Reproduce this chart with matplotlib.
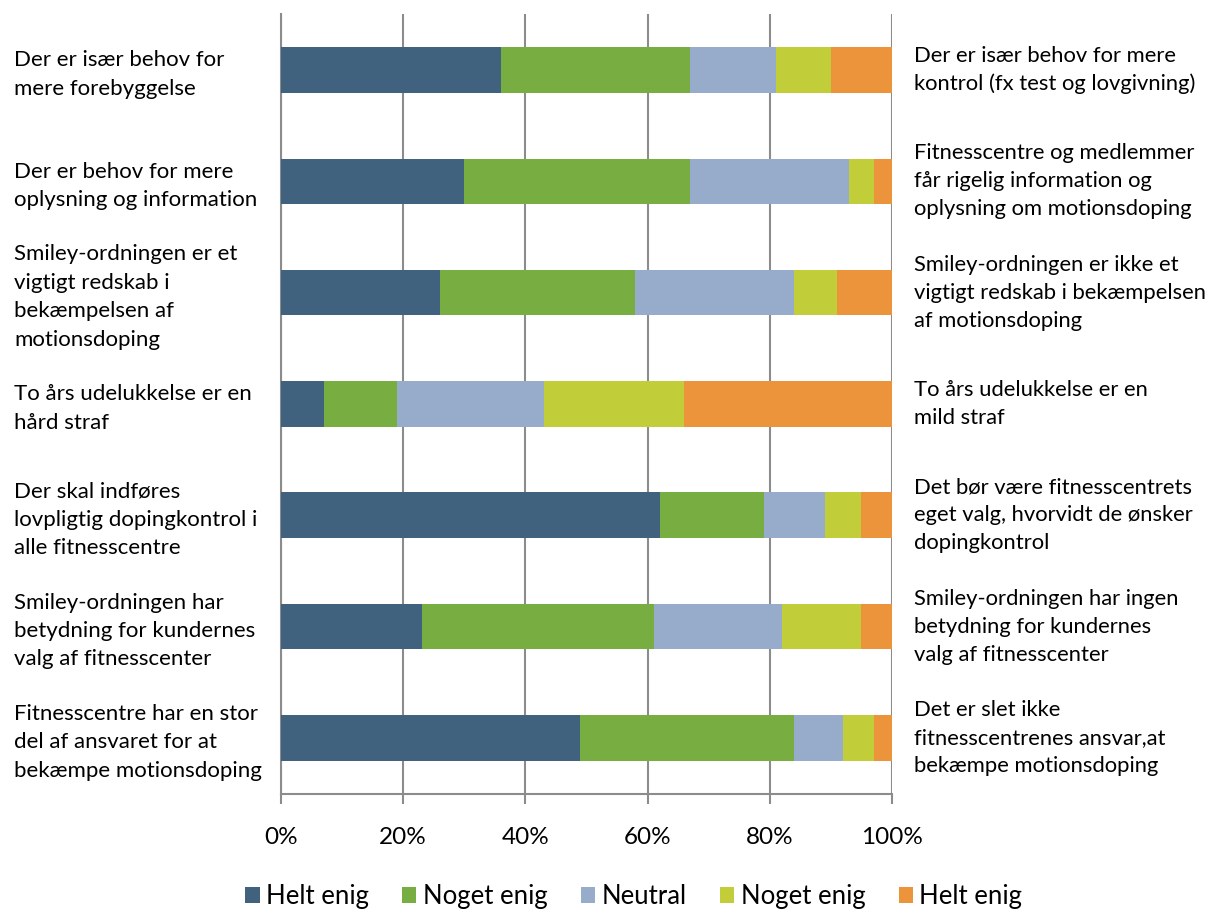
import matplotlib.pyplot as plt
import numpy as np

# ----- DATA -----

left_labels = [
    "Der er især behov for\nmere forebyggelse",
    "Der er behov for mere\noplysning og information",
    "Smiley-ordningen er et\nvigtigt redskab i\nbekæmpelsen af\nmotionsdoping",
    "To års udelukkelse er en\nhård straf",
    "Der skal indføres\nlovpligtig dopingkontrol i\nalle fitnesscentre",
    "Smiley-ordningen har\nbetydning for kundernes\nvalg af fitnesscenter",
    "Fitnesscentre har en stor\ndel af ansvaret for at\nbekæmpe motionsdoping",
]
right_labels = [
    "Der er især behov for mere\nkontrol (fx test og lovgivning)",
    "Fitnesscentre og medlemmer\nfår rigelig information og\noplysning om motionsdoping",
    "Smiley-ordningen er ikke et\nvigtigt redskab i bekæmpelsen\naf motionsdoping",
    "To års udelukkelse er en\nmild straf",
    "Det bør være fitnesscentrets\neget valg, hvorvidt de ønsker\ndopingkontrol",
    "Smiley-ordningen har ingen\nbetydning for kundernes\nvalg af fitnesscenter",
    "Det er slet ikke\nfitnesscentrenes ansvar,at\nbekæmpe motionsdoping",
]
series_names = ["Helt enig", "Noget enig", "Neutral", "Noget enig", "Helt enig"]
helt_enig_left = [36, 30, 26, 7, 62, 23, 49]
noget_enig_left = [31, 37, 32, 12, 17, 38, 35]
neutral = [14, 26, 26, 24, 10, 21, 8]
noget_enig_right = [9, 4, 7, 23, 6, 13, 5]
helt_enig_right = [10, 3, 9, 34, 5, 5, 3]
x_ticks = [0, 20, 40, 60, 80, 100]

colors = ["#41627F", "#77AD41", "#97ACCA", "#C2CD3A", "#EC943B"]

# ----- PLOT -----

plt.rcParams["font.family"] = ["Lato", "DejaVu Sans"]

fig = plt.figure(figsize=(12.12, 9.13), dpi=100)
ax = fig.add_axes([281 / 1212, 1 - 793.5 / 913, 611 / 1212, (793.5 - 14.4) / 913])

series = [helt_enig_left, noget_enig_left, neutral, noget_enig_right, helt_enig_right]
y = np.arange(len(left_labels))
left = np.zeros(len(left_labels))
for vals, name, c in zip(series, series_names, colors):
    ax.barh(y, vals, left=left, height=0.41, color=c, label=name, zorder=3)
    left += np.array(vals)

ax.set_xlim(0, 100)
ax.set_ylim(len(left_labels) - 0.5, -0.5)
ax.set_xticks(x_ticks)
ax.set_xticklabels([f"{t}%" for t in x_ticks], fontsize=17.5)
ax.set_yticks([])
ax.grid(axis="x", color="#8C8C8C", linewidth=1.5, zorder=0)
for s in ["top", "right"]:
    ax.spines[s].set_visible(False)
for s in ["left", "bottom"]:
    ax.spines[s].set_color("#8C8C8C")
    ax.spines[s].set_linewidth(1.5)
ax.tick_params(axis="x", length=7, width=1.5, color="#8C8C8C", pad=17)

for i, (lt, rt) in enumerate(zip(left_labels, right_labels)):
    ax.text(-267 / 611 * 100, i + 0.04, lt, fontsize=16, va="center",
            ha="left", linespacing=1.53)
    ax.text(103.6, i, rt, fontsize=15.8, va="center", ha="left",
            linespacing=1.5)

fig.legend(loc="lower center", bbox_to_anchor=(0.523, -0.021), ncol=5,
           frameon=False, fontsize=18.5, handlelength=0.55, handleheight=0.55,
           handletextpad=0.25, columnspacing=1.3)

fig.savefig("out.png", dpi=100)
